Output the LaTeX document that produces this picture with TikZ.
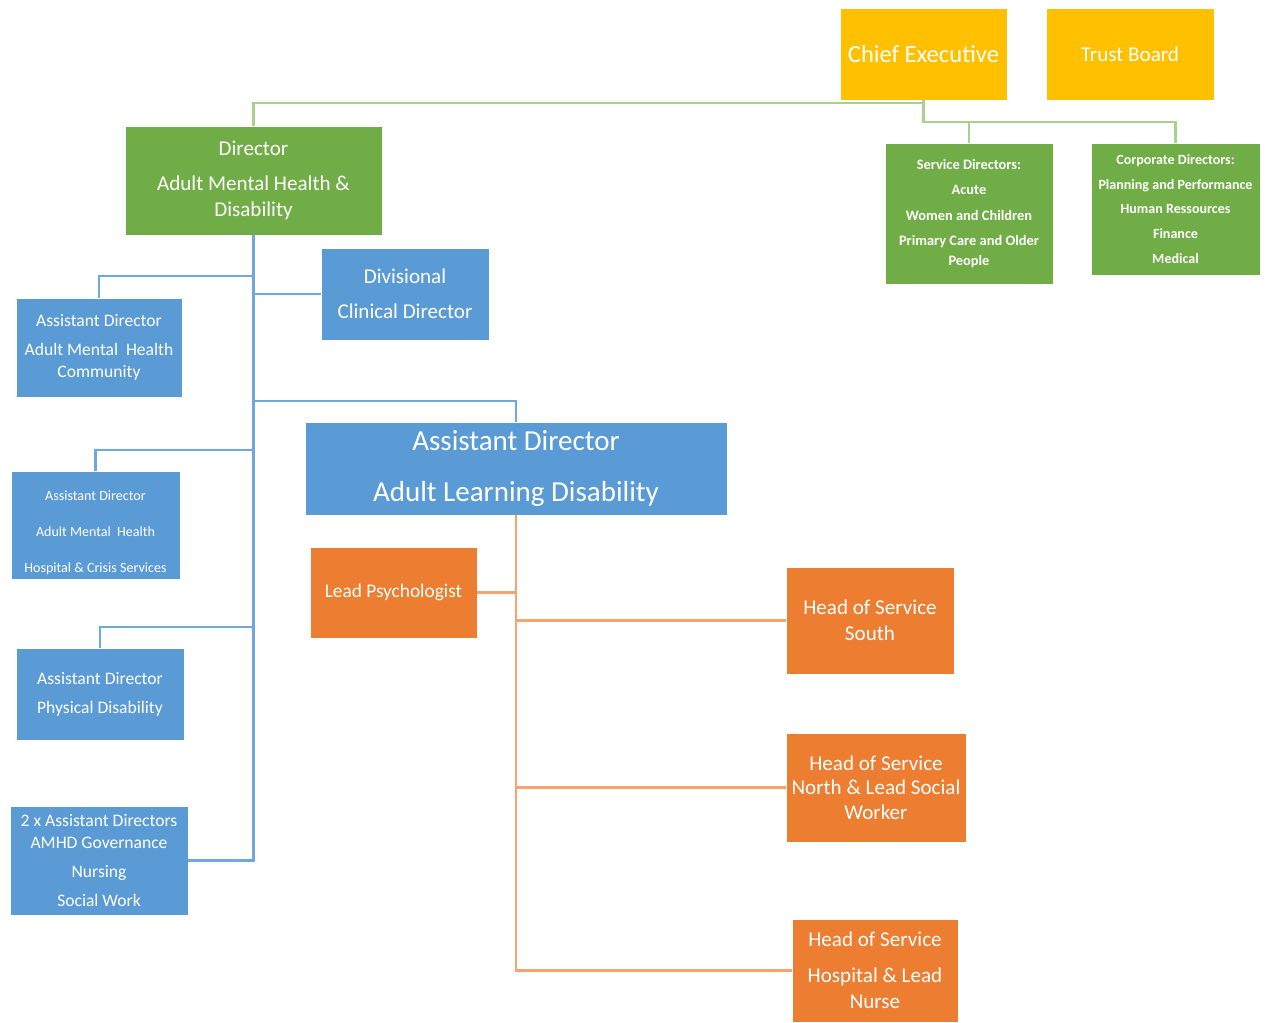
\documentclass[tikz,border=0pt]{standalone}
\usepackage{fontspec}
\setmainfont{Carlito}
\usepackage{tikz}
\usetikzlibrary{positioning,calc}
\definecolor{orgyellow}{HTML}{FFC000}
\definecolor{orggreen}{HTML}{70AD47}
\definecolor{orgblue}{HTML}{5B9BD5}
\definecolor{orgorange}{HTML}{ED7D31}
\definecolor{lnkgreen}{HTML}{A9D08E}
\definecolor{lnkblue}{HTML}{6FA8DC}
\definecolor{lnkorange}{HTML}{F4A46C}

\begin{document}
\begin{tikzpicture}[
  x=0.02cm, y=-0.02cm,
  unit/.style={draw=white, line width=0.4pt, inner sep=1pt, align=center, text=white,
    font=\fontsize{12}{15}\selectfont},
  ybox/.style={unit, fill=orgyellow},
  gbox/.style={unit, fill=orggreen},
  bbox/.style={unit, fill=orgblue},
  obox/.style={unit, fill=orgorange},
  gline/.style={draw=lnkgreen, line width=1.3pt},
  bline/.style={draw=lnkblue, line width=1.2pt},
  oline/.style={draw=lnkorange, line width=1.2pt},
]
\useasboundingbox (0,0) rectangle (1272,1023);

% top: executive and board
\node[ybox, minimum width=3.34cm, minimum height=1.84cm, font=\fontsize{14}{17}\selectfont]
  (ceo) at (923.5,54) {Chief Executive};
\node[ybox, minimum width=3.36cm, minimum height=1.84cm] (board) at (1130,54) {Trust Board};

% green level
\node[gbox, minimum width=5.14cm, minimum height=2.18cm] (dir) at (253.5,180.5)
  {Director\\[5pt]Adult Mental Health \&\\Disability};
\node[gbox, minimum width=3.36cm, minimum height=2.82cm, font=\fontsize{8.2}{11.3}\selectfont\bfseries]
  (svc) at (969,213.5)
  {Service Directors:\\[3pt]Acute\\[3pt]Women and Children\\[3pt]Primary Care and Older\\People};
\node[gbox, minimum width=3.38cm, minimum height=2.64cm, font=\fontsize{8}{14}\selectfont\bfseries]
  (corp) at (1175.5,209)
  {Corporate Directors:\\Planning and Performance\\Human Ressources\\Finance\\Medical};

% blue level
\node[bbox, minimum width=3.36cm, minimum height=1.84cm] (div) at (405,294)
  {Divisional\\[5pt]Clinical Director};
\node[bbox, minimum width=3.32cm, minimum height=1.98cm, font=\fontsize{10}{12.5}\selectfont]
  (adcom) at (99,347.5) {Assistant Director\\[4pt]Adult Mental\ \ Health\\Community};
\node[bbox, minimum width=8.44cm, minimum height=1.86cm, font=\fontsize{16.5}{20}\selectfont]
  (ald) at (516,468.5) {Assistant Director\\[9pt]Adult Learning Disability};
\node[bbox, minimum width=3.38cm, minimum height=2.16cm, font=\fontsize{8}{20.4}\selectfont]
  (adhosp) at (95.5,525) {\\[-6pt]Assistant Director\\Adult Mental\ \ Health\\Hospital \& Crisis Services};
\node[bbox, minimum width=3.36cm, minimum height=1.84cm, font=\fontsize{10}{16.4}\selectfont]
  (adphys) at (100,694) {Assistant Director\\Physical Disability};
\node[bbox, minimum width=3.56cm, minimum height=2.18cm, font=\fontsize{10}{12.5}\selectfont]
  (adgov) at (99,860.5) {2 x Assistant Directors\\AMHD Governance\\[4pt]Nursing\\[4pt]Social Work};

% orange level
\node[obox, minimum width=3.34cm, minimum height=1.82cm, font=\fontsize{11}{14}\selectfont]
  (psych) at (393.5,592.5) {Lead Psychologist};
\node[obox, minimum width=3.36cm, minimum height=2.14cm] (south) at (870,620.5)
  {Head of Service\\South};
\node[obox, minimum width=3.6cm, minimum height=2.18cm, font=\fontsize{12}{14}\selectfont]
  (north) at (876,787.5) {Head of Service\\North \& Lead Social\\Worker};
\node[obox, minimum width=3.32cm, minimum height=2.06cm] (hosp) at (875,970.5)
  {Head of Service\\[5pt]Hospital \& Lead\\Nurse};

% green connectors
\coordinate (gbus) at (923.5,103);
\coordinate (cbus) at (923.5,122);
\draw[gline] (dir.north) |- (gbus);
\draw[gline] (ceo.south) -- (cbus) -| (corp.north);
\draw[gline] (cbus) -| (svc.north);

% blue connectors
\coordinate (badcom) at (253.5,276);
\coordinate (bald) at (253.5,401);
\coordinate (badhosp) at (253.5,450);
\coordinate (badphys) at (253.5,627);
\draw[bline] (dir.south) |- (adgov.east);
\draw[bline] (div.west) -- (div.west -| dir.south);
\foreach \n in {adcom,ald,adhosp,adphys}
  \draw[bline] (b\n) -| (\n.north);

% orange connectors
\draw[oline] (ald.south) |- (hosp.west);
\foreach \n in {psych}
  \draw[oline] (\n.east) -- (\n.east -| ald.south);
\foreach \n in {south,north}
  \draw[oline] (\n.west) -- (\n.west -| ald.south);
\end{tikzpicture}
\end{document}
